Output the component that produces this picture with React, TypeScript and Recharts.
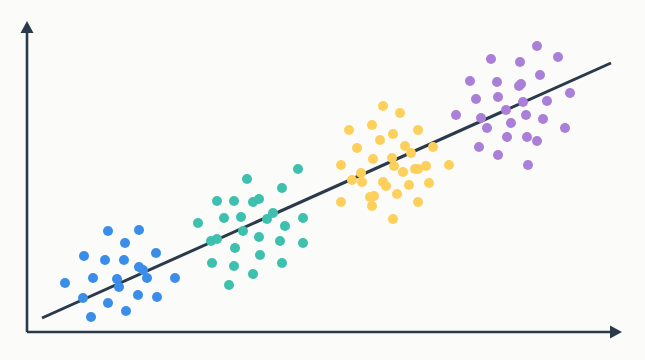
import { ScatterChart, Scatter, XAxis, YAxis, ReferenceLine } from "recharts";

// values (x to the right, y upwards)
const blue = [
  { x: 108, y: 129 }, { x: 139, y: 130 }, { x: 125, y: 117 }, { x: 84, y: 104 },
  { x: 105, y: 100 }, { x: 124, y: 100 }, { x: 156, y: 107 }, { x: 139, y: 93 },
  { x: 143, y: 90 }, { x: 65, y: 77 }, { x: 93, y: 82 }, { x: 117, y: 81 },
  { x: 119, y: 73 }, { x: 147, y: 82 }, { x: 175, y: 82 }, { x: 83, y: 62 },
  { x: 108, y: 57 }, { x: 138, y: 65 }, { x: 157, y: 63 }, { x: 126, y: 49 },
  { x: 91, y: 43 },
];

const teal = [
  { x: 298, y: 191 }, { x: 247, y: 181 }, { x: 282, y: 172 }, { x: 217, y: 159 },
  { x: 234, y: 159 }, { x: 253, y: 158 }, { x: 259, y: 161 }, { x: 198, y: 137 },
  { x: 224, y: 142 }, { x: 241, y: 143 }, { x: 273, y: 147 }, { x: 267, y: 141 },
  { x: 303, y: 142 }, { x: 285, y: 134 }, { x: 243, y: 129 }, { x: 211, y: 119 },
  { x: 217, y: 121 }, { x: 259, y: 123 }, { x: 280, y: 119 }, { x: 303, y: 117 },
  { x: 235, y: 112 }, { x: 260, y: 105 }, { x: 212, y: 97 }, { x: 234, y: 94 },
  { x: 282, y: 97 }, { x: 253, y: 86 }, { x: 229, y: 75 },
];

const yellow = [
  { x: 383, y: 254 }, { x: 400, y: 247 }, { x: 372, y: 235 }, { x: 349, y: 230 },
  { x: 418, y: 230 }, { x: 393, y: 226 }, { x: 380, y: 220 }, { x: 357, y: 212 },
  { x: 405, y: 214 }, { x: 433, y: 213 }, { x: 411, y: 207 }, { x: 373, y: 201 },
  { x: 392, y: 202 }, { x: 341, y: 195 }, { x: 394, y: 194 }, { x: 403, y: 188 },
  { x: 415, y: 191 }, { x: 418, y: 191 }, { x: 426, y: 194 }, { x: 449, y: 195 },
  { x: 361, y: 187 }, { x: 352, y: 180 }, { x: 362, y: 178 }, { x: 383, y: 178 },
  { x: 386, y: 174 }, { x: 409, y: 175 }, { x: 429, y: 177 }, { x: 341, y: 158 },
  { x: 370, y: 163 }, { x: 374, y: 164 }, { x: 372, y: 154 }, { x: 397, y: 166 },
  { x: 418, y: 158 }, { x: 393, y: 141 },
];

const purple = [
  { x: 537, y: 314 }, { x: 491, y: 301 }, { x: 520, y: 298 }, { x: 558, y: 303 },
  { x: 470, y: 279 }, { x: 497, y: 278 }, { x: 519, y: 274 }, { x: 521, y: 276 },
  { x: 540, y: 285 }, { x: 476, y: 261 }, { x: 498, y: 263 }, { x: 523, y: 258 },
  { x: 547, y: 259 }, { x: 570, y: 267 }, { x: 456, y: 245 }, { x: 506, y: 250 },
  { x: 481, y: 242 }, { x: 526, y: 245 }, { x: 511, y: 237 }, { x: 543, y: 241 },
  { x: 487, y: 232 }, { x: 565, y: 232 }, { x: 507, y: 223 }, { x: 527, y: 223 },
  { x: 537, y: 219 }, { x: 479, y: 213 }, { x: 498, y: 205 }, { x: 528, y: 195 },
];

const trend = [
  { x: 42, y: 42 },
  { x: 611, y: 297 },
];

const origin = { x: 27, y: 28 };
const xAxisEnd = { x: 622, y: 28 };
const yAxisEnd = { x: 27, y: 339 };

const INK = "#2b3a4b";

const dot = (color: string) => (p: any) => (
  <circle cx={p.cx} cy={p.cy} r={5} fill={color} />
);

const Arrow = (p: any) => {
  const { x1, y1, x2, y2 } = p;
  const dx = x2 - x1;
  const dy = y2 - y1;
  const len = Math.sqrt(dx * dx + dy * dy) || 1;
  const ux = dx / len;
  const uy = dy / len;
  const head = 12;
  const half = 6.5;
  const bx = x2 - ux * head;
  const by = y2 - uy * head;
  return (
    <g>
      <line x1={x1} y1={y1} x2={bx + ux * 2} y2={by + uy * 2} stroke={INK} strokeWidth={2.6} />
      <polygon
        points={`${x2},${y2} ${bx - uy * half},${by + ux * half} ${bx + uy * half},${by - ux * half}`}
        fill={INK}
      />
    </g>
  );
};

export default function App() {
  return (
    <div
      style={{
        position: "absolute",
        left: 0,
        top: 0,
        width: 645,
        height: 360,
        background: "#fbfbf9",
      }}
    >
      <ScatterChart width={645} height={360} margin={{ top: 0, right: 0, bottom: 0, left: 0 }}>
        <XAxis type="number" dataKey="x" domain={[0, 645]} hide />
        <YAxis type="number" dataKey="y" domain={[0, 360]} hide />
        <Scatter data={blue} fill="#3a8ee9" shape={dot("#3a8ee9")} isAnimationActive={false} />
        <Scatter data={teal} fill="#3ec0af" shape={dot("#3ec0af")} isAnimationActive={false} />
        <Scatter data={yellow} fill="#fdd05c" shape={dot("#fdd05c")} isAnimationActive={false} />
        <Scatter data={purple} fill="#a97fd7" shape={dot("#a97fd7")} isAnimationActive={false} />
        <ReferenceLine segment={trend} stroke={INK} strokeWidth={3} ifOverflow="visible" />
        <ReferenceLine segment={[origin, xAxisEnd]} shape={Arrow} ifOverflow="visible" />
        <ReferenceLine segment={[origin, yAxisEnd]} shape={Arrow} ifOverflow="visible" />
      </ScatterChart>
    </div>
  );
}
